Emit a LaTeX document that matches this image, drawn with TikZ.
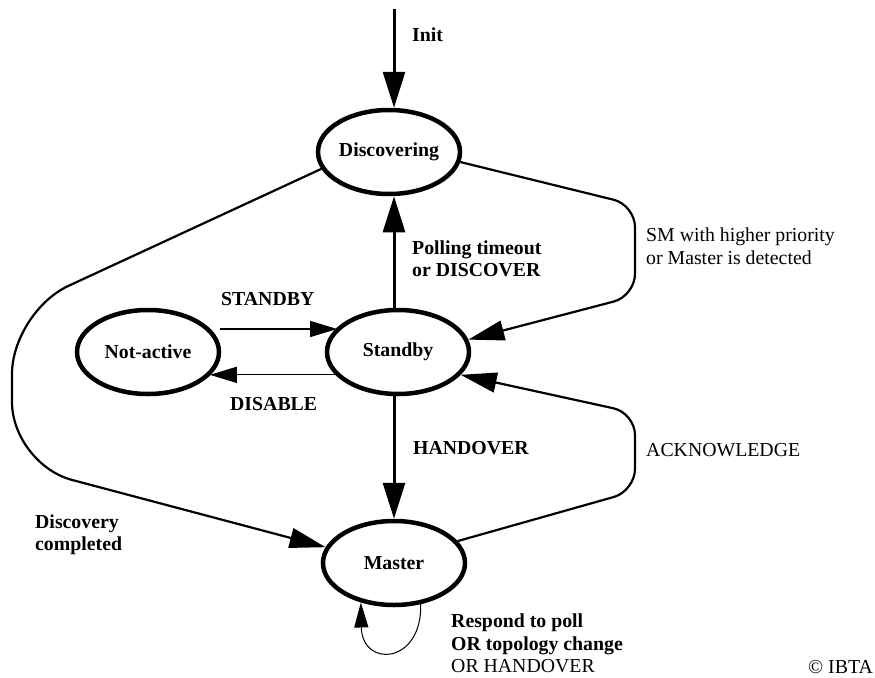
\documentclass[tikz,border=0pt]{standalone}
\usepackage{fontspec}
\setmainfont{Liberation Serif}
\usepackage{tikz}
\usetikzlibrary{arrows.meta,shapes.geometric}

\begin{document}
\fontsize{19.8}{22.5}\selectfont
\begin{tikzpicture}[x=1pt,y=1pt,yscale=-1,xscale=1,
    state/.style={draw,ellipse,line width=4.5pt,minimum width=142pt,minimum height=84pt,inner sep=0pt,font=\bfseries},
    bigarrow/.style={line width=3pt,-{Triangle[length=36pt,width=22pt]}},
    curvearrow/.style={line width=2.2pt,rounded corners=22pt,-{Triangle[length=36pt,width=20pt]}},
    thinarrow/.style={line width=1.2pt,-{Triangle[length=27pt,width=16pt]}},
    lbl/.style={anchor=west,align=left,inner sep=0pt,font=\bfseries},
    plainlbl/.style={anchor=west,align=left,inner sep=0pt}]
    \useasboundingbox (0,0) rectangle (875,677);

    %states
    \node[state] (disc) at (389,152) {Discovering};
    \node[state] (stby) at (398,352) {Standby};
    \node[state] (nact) at (148,352) {Not-active};
    \node[state] (mast) at (394,563) {Master};
    \coordinate (init) at (394,9);
    \coordinate (sbstart) at (220,329);

    %transitions
    \draw[bigarrow] (init) -- (init |- disc.north);
    \draw[bigarrow] (stby.north -| init) -- (disc.south -| init);
    \draw[bigarrow] (stby.south -| init) -- (mast.north -| init);
    \draw[thinarrow] (sbstart) -- (sbstart -| stby.158);
    \draw[thinarrow] (stby.200) -- (stby.200 -| nact.-21);
    \draw[curvearrow] (disc.-8) -- (635,205) -- (635,296) -- (stby.10);
    \draw[curvearrow] (mast.19) -- (635,491) -- (635,413) -- (stby.-20);
    \draw[curvearrow,rounded corners=62pt] (disc.194) -- (12,312) -- (12,464) -- (mast.167);
    \draw[line width=1pt,-{Triangle[length=25pt,width=14pt]}] (mast.-57) .. controls (422,665) and (362,668) .. (mast.-130);

    %labels
    \node[lbl] (initlbl) at (412,35) {Init};
    \node[lbl] (polllbl) at (412,259) {Polling timeout\\or DISCOVER};
    \node[plainlbl] (smlbl) at (646,246) {SM with higher priority\\or Master is detected};
    \node[lbl] (sblbl) at (221,299) {STANDBY};
    \node[lbl] (dislbl) at (230,404) {DISABLE};
    \node[lbl] (holbl) at (413,448) {HANDOVER};
    \node[plainlbl] (acklbl) at (646,450) {ACKNOWLEDGE};
    \node[lbl] (dclbl) at (35,534.5) {Discovery\\completed};
    \node[lbl] (rplbl) at (451,643.5) {Respond to poll\\OR topology change\\{\mdseries OR HANDOVER}};
    \node[plainlbl,anchor=east] (ibta) at (873,667) {© IBTA};

\end{tikzpicture}
\end{document}
